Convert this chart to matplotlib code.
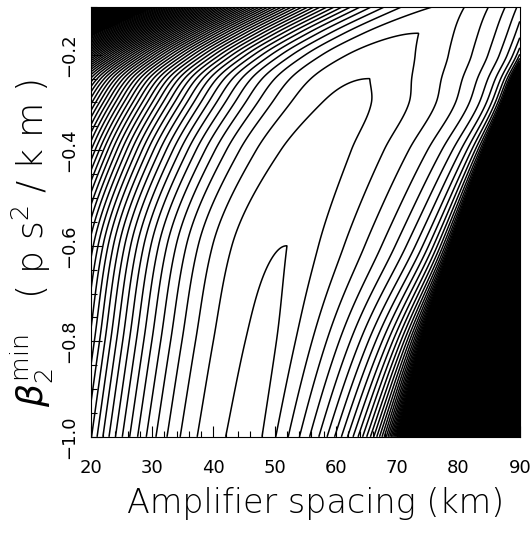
import numpy as np
import matplotlib
matplotlib.use("Agg")
import matplotlib.pyplot as plt

plt.rcParams["font.family"] = ["DejaVu Sans"]
plt.rcParams["mathtext.fontset"] = "custom"
plt.rcParams["mathtext.rm"] = "DejaVu Sans:weight=200"
plt.rcParams["mathtext.it"] = "DejaVu Sans:italic:weight=200"

# Ridge of the map at a few beta2 values
beta_knots = np.array([-1.0, -0.8, -0.6, -0.4, -0.3, -0.25, -0.2, -0.155, -0.1])
ridge_x    = np.array([47.2, 49.6, 52.0, 58.5, 63.5, 65.5, 69.0, 73.5, 80.0])   # km
ridge_peak = np.array([0.3, 0.2, 0.0, -0.4, -0.7, -1.0, -1.45, -2.0, -2.8])    # in contour steps
left_width = np.array([8.8, 8.9, 9.0, 9.4, 9.7, 9.6, 9.3, 9.0, 8.6])           # km
wall_x     = np.array([71.3, 74.8, 79.3, 84.5, 87.5, 89.0, 91.0, 92.5, 94.0])  # km, where lines pile up
wall_k     = np.array([9.9, 7.4, 4.8, 3.6, 3.0, 2.9, 2.8, 2.8, 2.8])
left_power = 2.3

contour_levels = np.arange(-60, 1)   # one line per step
x_ticks = [20, 30, 40, 50, 60, 70, 80, 90]
y_ticks = [-1.0, -0.8, -0.6, -0.4, -0.2]


def pchip(xk, yk, x):
    """Monotone cubic through the knots (no scipy needed)."""
    h = np.diff(xk)
    delta = np.diff(yk) / h
    m = np.zeros_like(yk)
    for i in range(1, len(xk) - 1):
        if delta[i - 1] * delta[i] > 0:
            w1 = 2 * h[i] + h[i - 1]
            w2 = h[i] + 2 * h[i - 1]
            m[i] = (w1 + w2) / (w1 / delta[i - 1] + w2 / delta[i])
    m[0], m[-1] = delta[0], delta[-1]
    idx = np.clip(np.searchsorted(xk, x) - 1, 0, len(xk) - 2)
    t = (x - xk[idx]) / h[idx]
    hh = h[idx]
    return ((2 * t**3 - 3 * t**2 + 1) * yk[idx] + (t**3 - 2 * t**2 + t) * hh * m[idx]
            + (-2 * t**3 + 3 * t**2) * yk[idx + 1] + (t**3 - t**2) * hh * m[idx + 1])


# Build the field on a fine grid
xs = np.linspace(20, 90, 1100)
ys = np.linspace(-1.0, -0.1, 1100)
X, Y = np.meshgrid(xs, ys)

xp = pchip(beta_knots, ridge_x, ys)[:, None]
pk = pchip(beta_knots, ridge_peak, ys)[:, None]
wl = pchip(beta_knots, left_width, ys)[:, None]
xb = pchip(beta_knots, wall_x, ys)[:, None]
kr = pchip(beta_knots, wall_k, ys)[:, None]

d = X - xp
z_left = pk - (np.maximum(-d, 0) / wl) ** left_power
ratio = np.clip((xb - X) / (xb - xp), 1e-12, None)
z_right = pk + kr * np.log(ratio)
Z = np.where(d < 0, z_left, z_right)
Z = np.where(X >= xb, -1e6, Z)
Z = np.maximum(Z, -1e6)

fig = plt.figure(figsize=(5.32, 5.36), dpi=100)
ax = fig.add_axes([0.171, 0.185, 0.806, 0.802])

# where lines would merge, the original is solid black
ax.contourf(X, Y, Z, levels=[-1e7, contour_levels[0]], colors="k")
ax.contour(X, Y, Z, levels=contour_levels, colors="k", linewidths=1.1, linestyles="solid")

ax.set_xlim(20, 90)
ax.set_ylim(-1.0, -0.1)
ax.set_xticks(x_ticks)
ax.set_yticks(y_ticks)
ax.set_xticks(np.arange(20, 91, 2), minor=True)
ax.set_yticks(np.arange(-1.0, -0.09, 0.05), minor=True)
ax.tick_params(which="both", direction="in", top=False, right=False)
ax.tick_params(which="major", length=8, width=0.8, labelsize=13)
ax.tick_params(which="minor", length=4, width=0.8)
ax.tick_params(axis="x", pad=16)
ax.tick_params(axis="y", pad=9)
for lab in ax.get_yticklabels():
    lab.set_rotation(90)
    lab.set_va("center")

ax.set_xlabel("Amplifier spacing (km)", fontsize=24, fontweight=200, labelpad=7)
ax.xaxis.label.set_x(0.524)
ts = "\u2009\u200a"
ax.set_ylabel(r"$\beta_2^{\rm min}$   (" + ts + "p" + ts + "s$^2$" + ts + "/" + ts + "k" + ts + "m" + ts + ")",
              fontsize=26, fontweight=200, labelpad=3)
ax.yaxis.label.set_y(0.45)
for s in ax.spines.values():
    s.set_linewidth(0.8)

fig.savefig("out.png", dpi=100)
